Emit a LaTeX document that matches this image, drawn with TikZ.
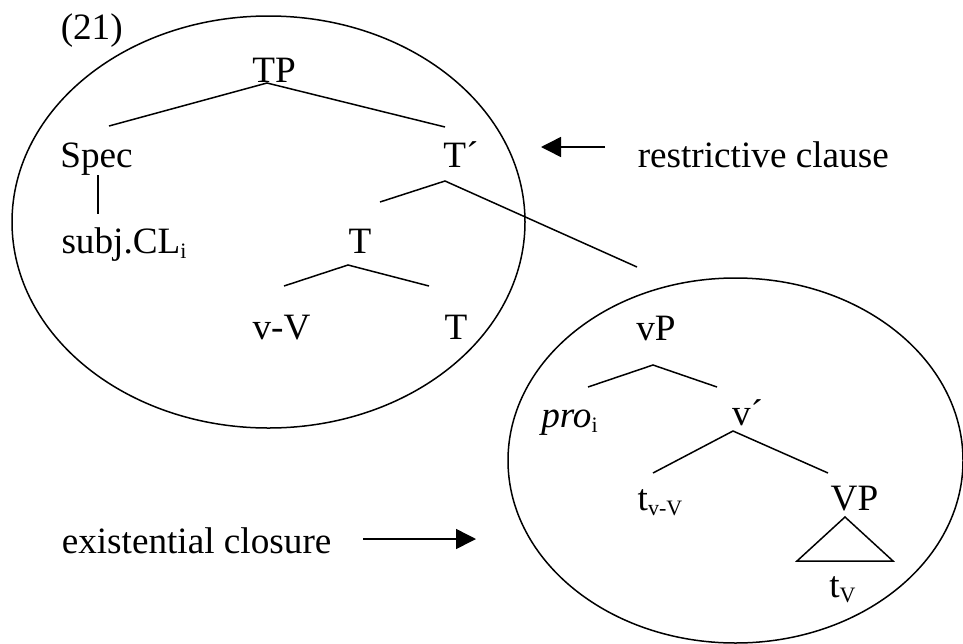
\documentclass[tikz,border=0pt]{standalone}
\usepackage{fontspec}
\setmainfont{Liberation Serif}
\usetikzlibrary{arrows.meta,calc}
\newcommand{\lowsub}[1]{\raisebox{-2.5pt}{\fontsize{11}{12}\selectfont #1}}

\begin{document}
\begin{tikzpicture}[x=0.5pt, y=-0.5pt, line width=0.75pt,
  lbl/.style={inner sep=0pt, anchor=base, font=\fontsize{18.6}{22}\selectfont},
  note/.style={lbl, anchor=base west},
  pointer/.style={-{Triangle[length=10pt,width=10pt]}}]
\useasboundingbox (0,0) rectangle (963,643);
% Example number
\node[note] (num) at (60,39) {(21)};
% Upper tree
\node[lbl] (TP) at (274,82) {TP};
\node[lbl] (Spec) at (96.5,167) {Spec};
\node[lbl] (Tbar) at (461,167) {T´};
\node[lbl] (subj) at (124,253) {subj.CL\lowsub{i}};
\node[lbl] (Tmid) at (360,253) {T};
\node[lbl] (vV) at (281.5,339) {v-V};
\node[lbl] (Tlow) at (456,339) {T};
% Lower tree
\node[lbl] (vP) at (656,340) {vP};
\node[lbl] (pro) at (569.5,427) {\textit{pro}\lowsub{i}};
\node[lbl] (vbar) at (747.5,425) {v´};
\node[lbl] (tvV) at (660,510) {t\lowsub{v-V}};
\node[lbl] (VP) at (854.5,510) {VP};
\node[lbl] (tV) at (842.5,597) {t\lowsub{V}};
% Branches
\draw ($(Spec.base)+(12.5,-41)$) -- ($(TP.base)+(-7,1)$) -- ($(Tbar.base)+(-16,-40)$);
\draw ($(Spec.base)+(1.5,8)$) -- ($(subj.base)+(-26,-39)$);
\draw ($(Tmid.base)+(20,-51)$) -- ($(Tbar.base)+(-16,14)$) -- ($(vP.base)+(-19,-73)$);
\draw ($(vV.base)+(2.5,-53)$) -- ($(Tmid.base)+(-12,12)$) -- ($(Tlow.base)+(-27,-53)$);
\draw ($(pro.base)+(18.5,-40)$) -- ($(vP.base)+(-3,25)$) -- ($(vbar.base)+(-30.5,-38)$);
\draw ($(tvV.base)+(-7,-37)$) -- ($(vbar.base)+(-14.5,6)$) -- ($(VP.base)+(-26.5,-37)$);
% Triangle under VP
\draw ($(VP.base)+(-9.5,7)$) -- ($(tV.base)+(50.5,-36)$) -- ($(tV.base)+(-45.5,-36)$) -- cycle;
% Circled domains
\draw (268.5,222) ellipse [x radius=128.25pt, y radius=103pt];
\draw (735.5,460.5) ellipse [x radius=113.75pt, y radius=91.25pt];
% Labels and arrows
\node[note] (rc) at (637,167) {restrictive clause};
\node[note] (ec) at (61,553) {existential closure};
\coordinate (rc-tip) at (541,147);
\coordinate (ec-tip) at (476,539);
\draw[pointer] ($(rc.base west)+(-32,-20)$) -- (rc-tip);
\draw[pointer] ($(ec.base east)+(31,-14)$) -- (ec-tip);
\end{tikzpicture}
\end{document}
